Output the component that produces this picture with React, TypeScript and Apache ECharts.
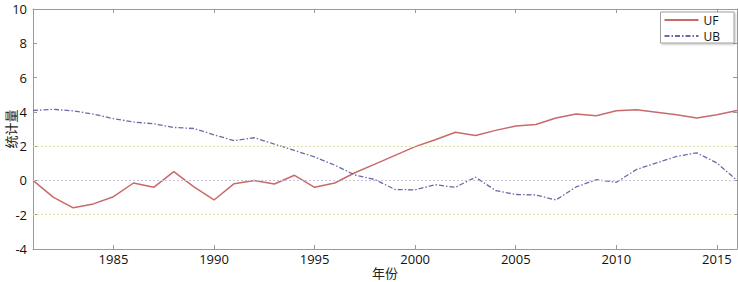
import React, { useEffect, useRef } from "react";
import * as echarts from "echarts";

const years = [1981, 1982, 1983, 1984, 1985, 1986, 1987, 1988, 1989, 1990, 1991, 1992, 1993, 1994, 1995, 1996, 1997, 1998, 1999, 2000, 2001, 2002, 2003, 2004, 2005, 2006, 2007, 2008, 2009, 2010, 2011, 2012, 2013, 2014, 2015, 2016];
const ufValues = [0, -0.97, -1.6, -1.37, -0.95, -0.15, -0.4, 0.51, -0.38, -1.14, -0.19, 0.0, -0.21, 0.3, -0.4, -0.15, 0.45, 0.95, 1.46, 1.97, 2.37, 2.81, 2.62, 2.92, 3.17, 3.26, 3.64, 3.87, 3.77, 4.06, 4.12, 3.98, 3.83, 3.64, 3.83, 4.08];
const ubValues = [4.08, 4.15, 4.06, 3.87, 3.6, 3.41, 3.3, 3.09, 3.03, 2.66, 2.32, 2.49, 2.12, 1.75, 1.37, 0.89, 0.32, 0.05, -0.53, -0.55, -0.25, -0.4, 0.19, -0.59, -0.82, -0.85, -1.14, -0.38, 0.04, -0.11, 0.64, 1.02, 1.4, 1.61, 1.02, 0.0];
const xTickYears = [1985, 1990, 1995, 2000, 2005, 2010, 2015];
const criticalLevels = [2, -2];
const zeroLevel = [0];
const seriesNames = ["UF", "UB"];

const FONT = "'Open Sans', 'Noto Sans', sans-serif";
const CJK = "'Noto Sans CJK SC', sans-serif";
const AXIS_COLOR = "#9a9a9a";

export default function App() {
  const ref = useRef<HTMLDivElement>(null);
  useEffect(() => {
    if (!ref.current) return;
    const chart = echarts.init(ref.current, undefined, { renderer: "svg" });
    const uf = years.map((y, i) => [y, ufValues[i]]);
    const ub = years.map((y, i) => [y, ubValues[i]]);
    const baseX = {
      type: "value" as const,
      min: 1981,
      max: 2016,
      splitLine: { show: false },
      axisLine: { show: true, onZero: false, lineStyle: { color: AXIS_COLOR, width: 1 } },
      axisTick: { show: true, inside: true, length: 4, customValues: xTickYears, lineStyle: { color: AXIS_COLOR } },
    };
    const baseY = {
      type: "value" as const,
      min: -4,
      max: 10,
      interval: 2,
      splitLine: { show: false },
      axisLine: { show: true, onZero: false, lineStyle: { color: AXIS_COLOR, width: 1 } },
      axisTick: { show: true, inside: true, length: 4, lineStyle: { color: AXIS_COLOR } },
    };
    chart.setOption({
      animation: false,
      backgroundColor: "#ffffff",
      grid: { left: 33, right: 1, top: 9, bottom: 33, containLabel: false, outerBoundsMode: "none" },
      legend: {
        data: seriesNames,
        orient: "vertical",
        right: 4,
        top: 12,
        itemWidth: 34,
        itemHeight: 11,
        itemGap: 4,
        padding: [2, 14, 1, 3],
        borderColor: "#a0a0a0",
        borderWidth: 1,
        backgroundColor: "#ffffff",
        shadowColor: "rgba(0,0,0,0.25)",
        shadowBlur: 2,
        shadowOffsetX: 1,
        shadowOffsetY: 1,
        itemStyle: { opacity: 0 },
        textStyle: { fontFamily: FONT, fontSize: 12, lineHeight: 12, color: "#111" },
      },
      xAxis: [
        {
          ...baseX,
          position: "bottom",
          name: "年份",
          nameLocation: "middle",
          nameGap: 17,
          nameMoveOverlap: false,
          nameTextStyle: { fontFamily: CJK, fontSize: 13, color: "#222" },
          axisLabel: {
            show: true,
            customValues: xTickYears,
            margin: 3,
            fontFamily: FONT,
            fontSize: 13,
            color: "#111",
            formatter: (v: number) => String(v),
          },
        },
        {
          ...baseX,
          position: "top",
          axisLabel: { show: false },
        },
      ],
      yAxis: [
        {
          ...baseY,
          position: "left",
          name: "统计量",
          nameLocation: "middle",
          nameGap: 16,
          nameMoveOverlap: false,
          nameTextStyle: { fontFamily: CJK, fontSize: 13, color: "#222" },
          axisLabel: { margin: 6, fontFamily: FONT, fontSize: 13, lineHeight: 12, color: "#111" },
        },
        {
          ...baseY,
          position: "right",
          axisLabel: { show: false },
        },
      ],
      series: [
        {
          name: seriesNames[0],
          type: "line",
          data: uf,
          showSymbol: false,
          symbol: "none",
          lineStyle: { color: "#c96a6a", width: 1.5 },
          itemStyle: { color: "#c96a6a" },
          markLine: {
            silent: true,
            symbol: "none",
            label: { show: false },
            lineStyle: { color: "#e0e0a8", type: [2, 2], width: 1 },
            data: criticalLevels.map((v) => ({ yAxis: v })),
          },
          z: 3,
        },
        {
          name: seriesNames[1],
          type: "line",
          data: ub,
          showSymbol: false,
          symbol: "none",
          lineStyle: { color: "#6a6aaa", width: 1.3, type: [5, 2, 1.5, 2] },
          itemStyle: { color: "#6a6aaa" },
          markLine: {
            silent: true,
            symbol: "none",
            label: { show: false },
            lineStyle: { color: "#c9c2d8", type: [2, 2], width: 1 },
            data: zeroLevel.map((v) => ({ yAxis: v })),
          },
          z: 3,
        },
      ],
    });
    return () => chart.dispose();
  }, []);
  return <div ref={ref} style={{ position: "fixed", left: 0, top: 0, width: 738, height: 282 }} />;
}
